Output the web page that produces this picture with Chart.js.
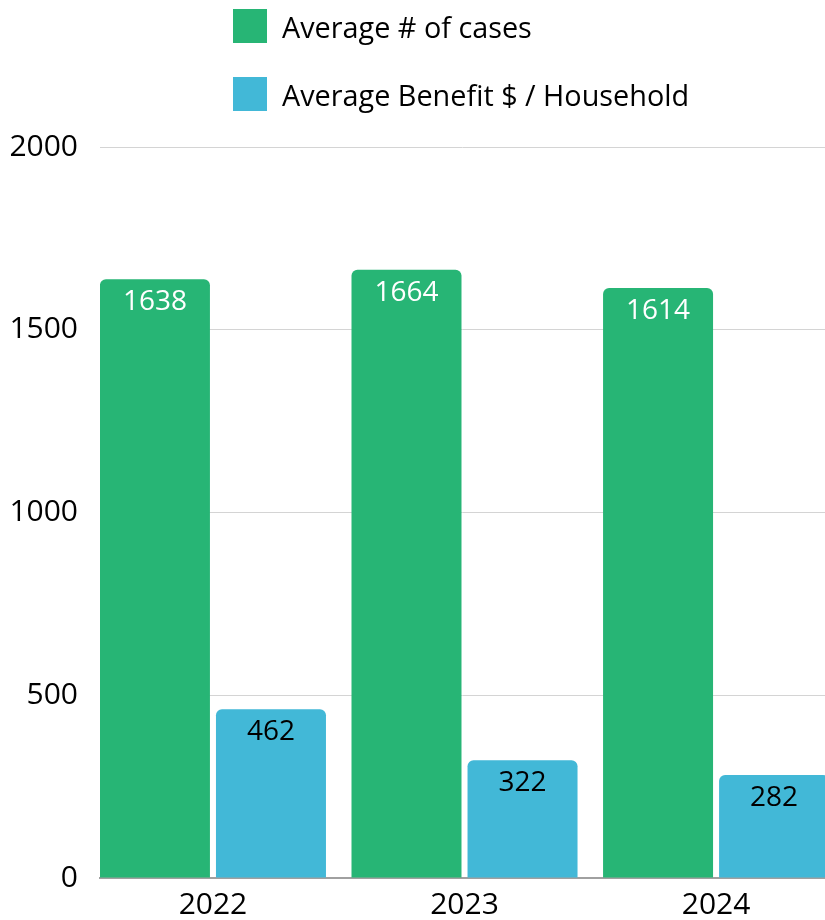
<!DOCTYPE html>
<html>
<head>
<meta charset="utf-8">
<script src="https://cdn.jsdelivr.net/npm/chart.js@4.4.1/dist/chart.umd.min.js"></script>
<style>
  html, body { margin: 0; padding: 0; background: #fff; overflow: hidden; }
  #wrap { position: relative; width: 825px; height: 920px; }
  #legend { position: absolute; left: 233px; top: 9px; font-family: "Open Sans", sans-serif; font-size: 28.8px; color: #000; }
  .legend-item { display: flex; align-items: center; height: 34px; margin-bottom: 34px; }
  .legend-box { width: 34px; height: 34px; margin-right: 15px; }
</style>
</head>
<body>
<div id="wrap">
  <canvas id="benefitChart" width="825" height="920"></canvas>
  <div id="legend"></div>
</div>
<script>
// ========================================
// DỮ LIỆU
// ========================================
const years = ["2022", "2023", "2024"];
const avgCases = [1638, 1664, 1614];
const avgBenefit = [462, 322, 282];
const yTicks = [0, 500, 1000, 1500, 2000];

const FONT = "'Open Sans', sans-serif";

// Ghi số lên đầu mỗi cột
const barValueLabels = {
  id: "barValueLabels",
  afterDatasetsDraw(chart) {
    const ctx = chart.ctx;
    ctx.save();
    ctx.font = "28px " + FONT;
    ctx.textAlign = "center";
    ctx.textBaseline = "middle";
    chart.data.datasets.forEach((ds, i) => {
      chart.getDatasetMeta(i).data.forEach((bar, j) => {
        ctx.fillStyle = ds.labelColor;
        ctx.fillText(ds.data[j].y, bar.x, bar.y + 23);
      });
    });
    ctx.restore();
  },
};

const toPoints = (arr) => arr.map((v, i) => ({ x: i, y: v }));

const chart = new Chart(document.getElementById("benefitChart"), {
  type: "bar",
  data: {
    datasets: [
      {
        label: "Average # of cases",
        data: toPoints(avgCases),
        backgroundColor: "#27B575",
        labelColor: "#ffffff",
        borderRadius: 6,
        categoryPercentage: 0.9225,
        barPercentage: 0.948,
      },
      {
        label: "Average Benefit $ / Household",
        data: toPoints(avgBenefit),
        backgroundColor: "#42B8D7",
        labelColor: "#000000",
        borderRadius: 6,
        categoryPercentage: 0.9225,
        barPercentage: 0.948,
      },
    ],
  },
  options: {
    responsive: false,
    animation: false,
    layout: { padding: { top: 147, right: 0, bottom: 0, left: 0 } },
    plugins: {
      legend: { display: false },
      tooltip: { enabled: false },
    },
    scales: {
      x: {
        type: "linear",
        offset: false,
        min: -0.449,
        max: 2.433,
        afterBuildTicks: (scale) => {
          scale.ticks = years.map((_, i) => ({ value: i }));
        },
        grid: { display: false, drawTicks: false },
        border: { color: "#a0a0a0", width: 2 },
        ticks: {
          color: "#000",
          font: { family: FONT, size: 30 },
          padding: 9,
          callback: (val) => years[val],
        },
        afterFit: (scale) => { scale.height = 42; },
      },
      y: {
        min: 0,
        max: 2000,
        afterBuildTicks: (scale) => {
          scale.ticks = yTicks.map((v) => ({ value: v }));
        },
        grid: { color: "#d4d4d4", drawTicks: false },
        border: { display: false },
        ticks: {
          color: "#000",
          font: { family: FONT, size: 30 },
          padding: 22,
          callback: (val) => String(val),
        },
        afterFit: (scale) => { scale.width = 100; },
      },
    },
  },
  plugins: [barValueLabels],
});

// Chú thích dạng HTML, lấy từ datasets
document.getElementById("legend").innerHTML = chart.data.datasets
  .map((ds) => `<div class="legend-item"><span class="legend-box" style="background:${ds.backgroundColor}"></span>${ds.label}</div>`)
  .join("");
</script>
</body>
</html>
